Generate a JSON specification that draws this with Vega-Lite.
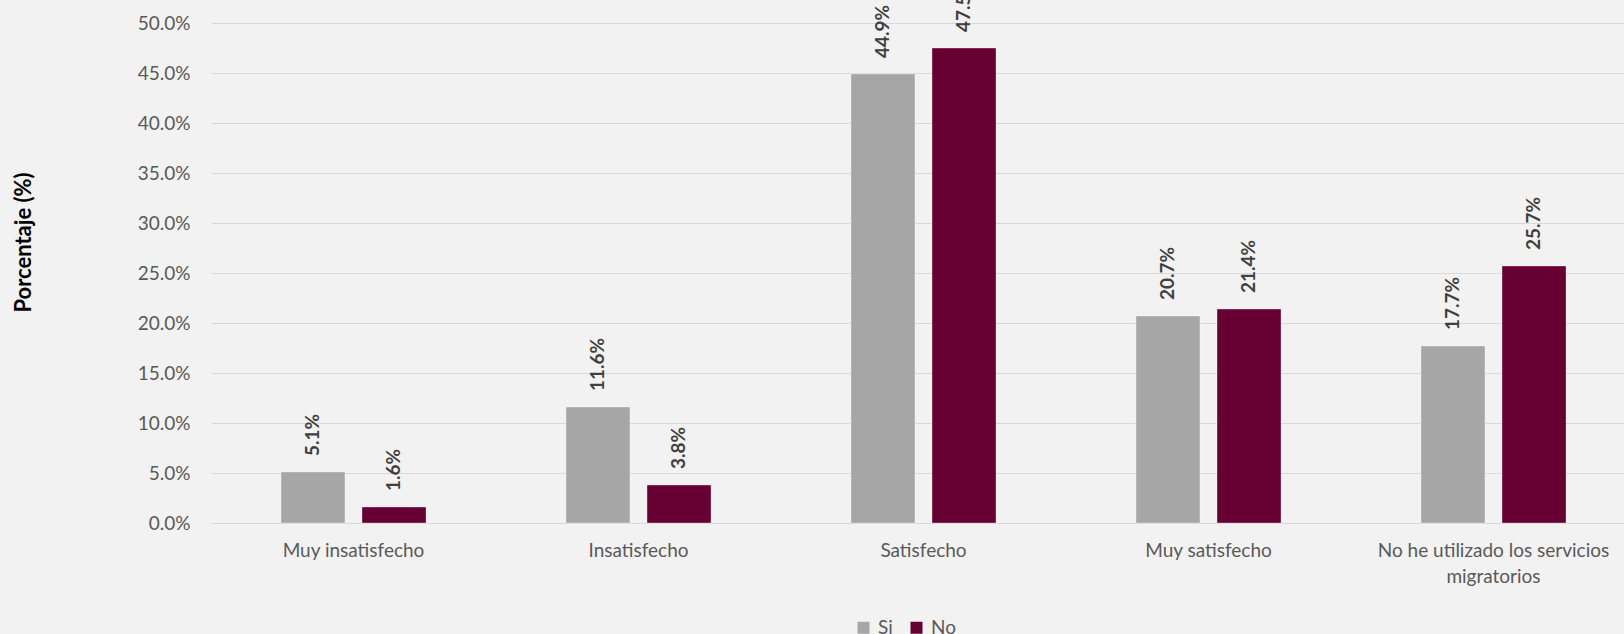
{
  "$schema": "https://vega.github.io/schema/vega-lite/v6.json",
  "width": 1413,
  "height": 500,
  "autosize": {"type": "none"},
  "padding": {"left": 211, "top": 23, "right": 0, "bottom": 111},
  "background": "#F2F2F2",
  "config": {"view": {"stroke": null}, "font": "Lato"},
  "data": {
    "values": [
      {"cat": "Muy insatisfecho", "grupo": "Si", "v": 0.051},
      {"cat": "Muy insatisfecho", "grupo": "No", "v": 0.016},
      {"cat": "Insatisfecho", "grupo": "Si", "v": 0.116},
      {"cat": "Insatisfecho", "grupo": "No", "v": 0.038},
      {"cat": "Satisfecho", "grupo": "Si", "v": 0.449},
      {"cat": "Satisfecho", "grupo": "No", "v": 0.475},
      {"cat": "Muy satisfecho", "grupo": "Si", "v": 0.207},
      {"cat": "Muy satisfecho", "grupo": "No", "v": 0.214},
      {"cat": "No he utilizado los servicios migratorios", "grupo": "Si", "v": 0.177},
      {"cat": "No he utilizado los servicios migratorios", "grupo": "No", "v": 0.257}
    ]
  },
  "encoding": {
    "x": {
      "field": "cat",
      "type": "nominal",
      "sort": null,
      "scale": {"range": [0, 1425], "paddingInner": 0.491, "paddingOuter": 0.2455},
      "axis": {
        "title": null,
        "labelAngle": 0,
        "ticks": false,
        "domain": true,
        "domainColor": "#D9D9D9",
        "domainWidth": 1,
        "grid": false,
        "labelFont": "Lato",
        "labelFontSize": 19,
        "labelColor": "#595959",
        "labelPadding": 18,
        "labelLineHeight": 26,
        "labelLimit": 0,
        "labelOverlap": false,
        "labelExpr": "datum.label == 'No he utilizado los servicios migratorios' ? ['No he utilizado los servicios', 'migratorios'] : datum.label"
      }
    },
    "xOffset": {
      "field": "grupo",
      "type": "nominal",
      "sort": ["Si", "No"],
      "scale": {"paddingInner": 0.21, "paddingOuter": 0}
    },
    "y": {
      "field": "v",
      "type": "quantitative",
      "scale": {"domain": [0, 0.5], "nice": false},
      "axis": {
        "values": [0, 0.05, 0.1, 0.15, 0.2, 0.25, 0.3, 0.35, 0.4, 0.45, 0.5],
        "format": ".1%",
        "ticks": false,
        "domain": false,
        "grid": true,
        "gridColor": "#D9D9D9",
        "gridWidth": 1,
        "labelFont": "Lato",
        "labelFontSize": 19,
        "labelColor": "#595959",
        "labelPadding": 21,
        "title": "Porcentaje (%)",
        "titleFont": "Lato",
        "titleFontSize": 22,
        "titleFontWeight": "bold",
        "titleColor": "#000000",
        "titleAngle": 270,
        "titleAlign": "center",
        "titleBaseline": "middle",
        "titleX": -188,
        "titleY": 219
      }
    }
  },
  "layer": [
    {
      "mark": {"type": "bar", "stroke": "#ffffff", "strokeOpacity": 0.35, "strokeWidth": 1},
      "encoding": {
        "color": {
          "field": "grupo",
          "type": "nominal",
          "sort": ["Si", "No"],
          "scale": {"domain": ["Si", "No"], "range": ["#A6A6A6", "#660033"]},
          "legend": {
            "title": null,
            "orient": "none",
            "legendX": 643,
            "legendY": 595,
            "direction": "horizontal",
            "symbolType": "square",
            "symbolSize": 144,
            "symbolStrokeWidth": 0,
            "symbolOpacity": 1,
            "labelFont": "Lato",
            "labelFontSize": 19,
            "labelColor": "#595959",
            "labelOffset": 5,
            "columnPadding": 14,
            "padding": 0
          }
        }
      }
    },
    {
      "mark": {
        "type": "text",
        "angle": 270,
        "align": "left",
        "baseline": "middle",
        "dx": 16,
        "font": "Lato",
        "fontWeight": "bold",
        "fontSize": 19,
        "color": "#404040"
      },
      "encoding": {
        "text": {"field": "v", "type": "quantitative", "format": ".1%"}
      }
    }
  ]
}
